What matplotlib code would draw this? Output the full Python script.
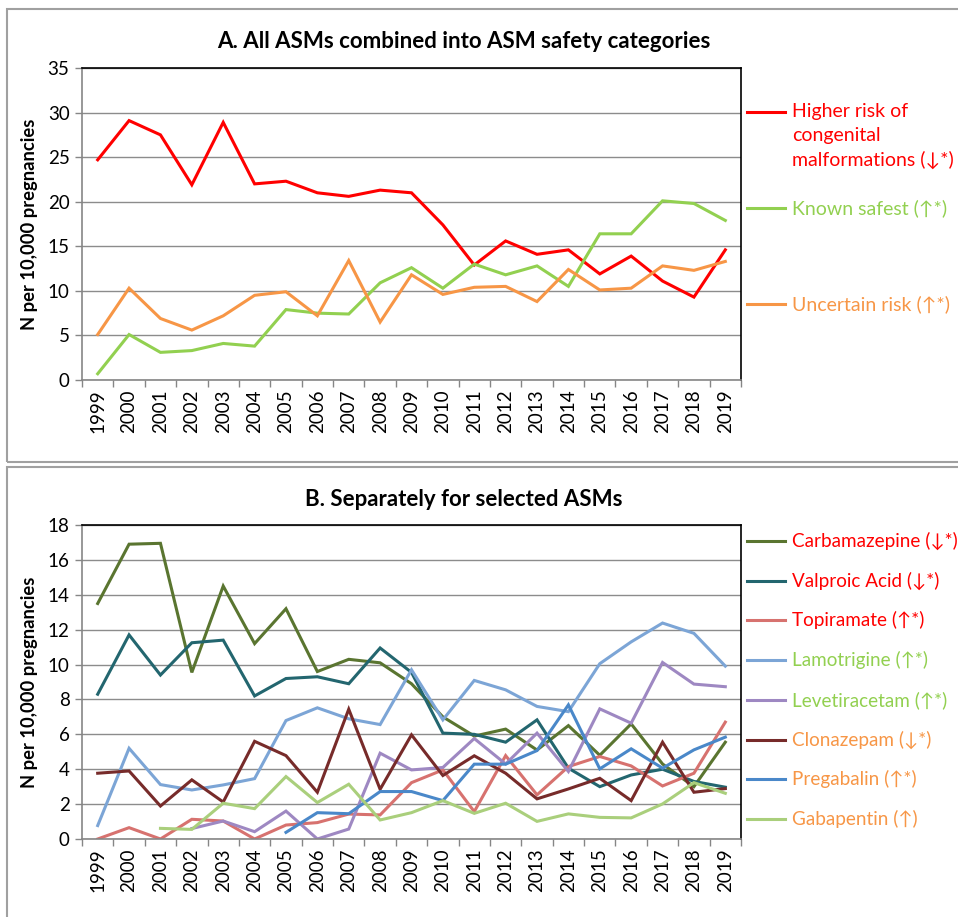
import matplotlib.pyplot as plt
from matplotlib.patches import Rectangle

plt.rcParams['font.family'] = ['Lato', 'DejaVu Sans']

years = [str(y) for y in range(1999, 2020)]

# panel A - safety categories
higher_risk = [24.7, 29.1, 27.5, 21.9, 28.9, 22.0, 22.3, 21.0, 20.6, 21.3, 21.0,
               17.4, 12.9, 15.6, 14.1, 14.6, 11.9, 13.9, 11.1, 9.3, 14.6]
known_safest = [0.7, 5.1, 3.1, 3.3, 4.1, 3.8, 7.9, 7.5, 7.4, 10.9, 12.6,
                10.3, 13.0, 11.8, 12.8, 10.5, 16.4, 16.4, 20.1, 19.8, 17.9]
uncertain = [5.1, 10.3, 6.9, 5.6, 7.2, 9.5, 9.9, 7.2, 13.4, 6.5, 11.8,
             9.6, 10.4, 10.5, 8.8, 12.4, 10.1, 10.3, 12.8, 12.3, 13.3]

# panel B - selected ASMs (None = no data)
carbamazepine = [13.5, 16.9, 16.95, 9.55, 14.5, 11.2, 13.2, 9.6, 10.3, 10.1, 8.9,
                 7.0, 5.9, 6.3, 5.1, 6.5, 4.8, 6.6, 4.3, 3.0, 5.55]
valproic = [8.3, 11.7, 9.4, 11.25, 11.4, 8.2, 9.2, 9.3, 8.9, 10.95, 9.55,
            6.07, 6.0, 5.55, 6.83, 4.06, 3.0, 3.67, 4.0, 3.3, 2.97]
topiramate = [0.0, 0.65, 0.0, 1.13, 1.03, 0.0, 0.8, 0.94, 1.43, 1.38, 3.23,
              3.96, 1.57, 4.78, 2.53, 4.15, 4.73, 4.19, 3.04, 3.77, 6.7]
lamotrigine = [0.77, 5.2, 3.12, 2.81, 3.1, 3.46, 6.79, 7.52, 6.89, 6.56, 9.7,
               6.83, 9.09, 8.55, 7.6, 7.3, 10.05, 11.3, 12.38, 11.79, 9.91]
levetiracetam = [None, None, None, 0.6, 1.03, 0.42, 1.6, 0.0, 0.57, 4.92, 3.96,
                 4.1, 5.76, 4.3, 6.07, 3.87, 7.46, 6.64, 10.12, 8.88, 8.73]
clonazepam = [3.77, 3.9, 1.89, 3.39, 2.12, 5.6, 4.78, 2.68, 7.44, 2.85, 5.97,
              3.64, 4.77, 3.77, 2.3, 2.87, 3.48, 2.2, 5.55, 2.68, 2.89]
pregabalin = [None, None, None, None, None, None, 0.38, 1.51, 1.45, 2.72, 2.72,
              2.2, 4.29, 4.29, 5.07, 7.69, 4.02, 5.17, 4.06, 5.11, 5.84]
gabapentin = [None, None, 0.61, 0.55, 2.05, 1.74, 3.58, 2.09, 3.14, 1.09, 1.51,
              2.2, 1.47, 2.05, 1.01, 1.44, 1.24, 1.21, 2.01, 3.23, 2.62]

RED, GREEN, ORANGE = '#FF0000', '#92D050', '#F79646'

series_a = [
    (higher_risk, RED, 'Higher risk of\ncongenital\nmalformations (↓*)', RED),
    (known_safest, GREEN, 'Known safest (↑*)', GREEN),
    (uncertain, ORANGE, 'Uncertain risk (↑*)', ORANGE),
]
series_b = [
    (carbamazepine, '#5A7530', 'Carbamazepine (↓*)', RED),
    (valproic, '#23666F', 'Valproic Acid (↓*)', RED),
    (topiramate, '#D7726F', 'Topiramate (↑*)', RED),
    (lamotrigine, '#7CA5D6', 'Lamotrigine (↑*)', GREEN),
    (levetiracetam, '#9E88C2', 'Levetiracetam (↑*)', GREEN),
    (clonazepam, '#772B2A', 'Clonazepam (↓*)', ORANGE),
    (pregabalin, '#4A88C9', 'Pregabalin (↑*)', ORANGE),
    (gabapentin, '#AACF7C', 'Gabapentin (↑)', ORANGE),
]

W, H = 958, 917
fig = plt.figure(figsize=(W / 100, H / 100), dpi=100)


def fx(px):
    return px / W


def fy(py):
    return 1 - py / H


# panel borders
for top, bot in [(9, 462), (467, 930)]:
    fig.patches.append(Rectangle((fx(7), fy(bot)), fx(980) - fx(7), fy(top) - fy(bot),
                                 transform=fig.transFigure, fill=False,
                                 edgecolor='#A0A0A0', linewidth=1.5))


def make_panel(top, bot, title, series, ymax, ystep, leg_y, leg_size):
    ax = fig.add_axes([fx(82), fy(bot), fx(741) - fx(82), fy(top) - fy(bot)])
    x = list(range(len(years)))
    for vals, col, lab, tcol in series:
        xs = [i for i, v in zip(x, vals) if v is not None]
        ys = [v for v in vals if v is not None]
        ax.plot(xs, ys, color=col, linewidth=2.2, solid_joinstyle='miter')
    ax.set_xlim(-0.5, len(years) - 0.5)
    ax.set_ylim(0, ymax)
    ax.set_yticks(range(0, ymax + 1, ystep))
    ax.set_xticks(x)
    ax.set_xticklabels(years, rotation=90, fontsize=13.5)
    ax.set_xticks([i - 0.5 for i in range(len(years) + 1)], minor=True)
    ax.tick_params(axis='x', which='major', length=0, pad=7)
    ax.tick_params(axis='x', which='minor', length=5, color='#868686', width=1)
    ax.tick_params(axis='y', length=5, color='#868686', width=1, labelsize=13.5, pad=4)
    ax.grid(axis='y', color='#8C8C8C', linewidth=1)
    ax.set_axisbelow(True)
    for s in ['left', 'bottom']:
        ax.spines[s].set_color('#868686')
        ax.spines[s].set_linewidth(1.2)
    for s in ['top', 'right']:
        ax.spines[s].set_color('#000000')
        ax.spines[s].set_linewidth(1.2)
    fig.text(fx(30), (fy(top) + fy(bot)) / 2, 'N per 10,000 pregnancies',
             rotation=90, ha='center', va='center', fontsize=13.2, fontweight='bold')
    fig.text(fx(464), fy(top - 26), title, ha='center', va='center',
             fontsize=16, fontweight='bold')
    # legend drawn as lines and coloured text at the right
    for (vals, col, lab, tcol), ly in zip(series, leg_y):
        fig.add_artist(plt.Line2D([fx(747), fx(785)], [fy(ly), fy(ly)],
                                  color=col, linewidth=2.2, transform=fig.transFigure))
        fig.text(fx(792), fy(ly - 9), lab, color=tcol, fontsize=leg_size,
                 ha='left', va='top', linespacing=1.47)
    return ax


make_panel(68, 380, 'A. All ASMs combined into ASM safety categories', series_a, 35, 5,
           [112, 208, 304], 14)
make_panel(525, 839, 'B. Separately for selected ASMs', series_b, 18, 2,
           [541, 581, 620, 660, 700, 740, 779, 819], 13.6)

fig.savefig('out.png', dpi=100)
